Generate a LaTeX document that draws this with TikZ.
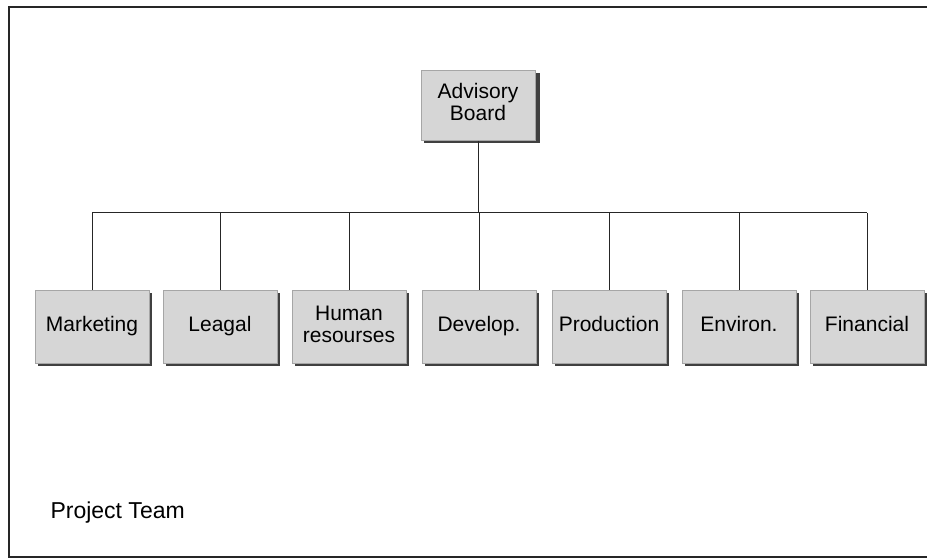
\documentclass[tikz,border=0pt]{standalone}
\usepackage{fontspec}
\setmainfont{Liberation Sans}
\begin{document}
\begin{tikzpicture}[x=1pt,y=-1pt,
  unit/.style={fill=black!16, draw=black!35, line width=0.6pt,
    minimum width=114pt, minimum height=73pt, inner sep=1pt,
    align=center, font=\fontsize{21}{22}\selectfont, anchor=north},
  dropshadow/.style={fill=black!75},
  link/.style={draw=black!85, line width=1pt}]
\useasboundingbox (0,0) rectangle (927,559);
\draw[black!85, line width=2pt] (9,7) rectangle (940,557);

% top unit
\fill[dropshadow] (424,73) rectangle (540,143);
\node[unit, minimum height=70pt] (board) at (478,70) {Advisory\strut\\Board\strut};

% departments
\foreach \name/\cx/\txt in {mkt/92/Marketing\strut, leg/220/Leagal\strut,
    hum/349/Human\strut\\resourses\strut, dev/479/Develop.\strut,
    prod/609/Production\strut, env/739/Environ.\strut, fin/867/Financial\strut}{
  \fill[dropshadow] (\cx-54,293) rectangle (\cx+60,366);
  \node[unit] (\name) at (\cx,290) {\txt};
}

% connectors
\coordinate (bus) at (478,213);
\draw[link] (board.south) -- (bus);
\draw[link] (mkt.north |- bus) -- (fin.north |- bus);
\foreach \name in {mkt,leg,hum,dev,prod,env,fin}
  \draw[link] (\name.north |- bus) -- (\name.north);

\node[anchor=base west, font=\fontsize{23}{26}\selectfont] (team) at (47,518) {Project Team};
\end{tikzpicture}
\end{document}
